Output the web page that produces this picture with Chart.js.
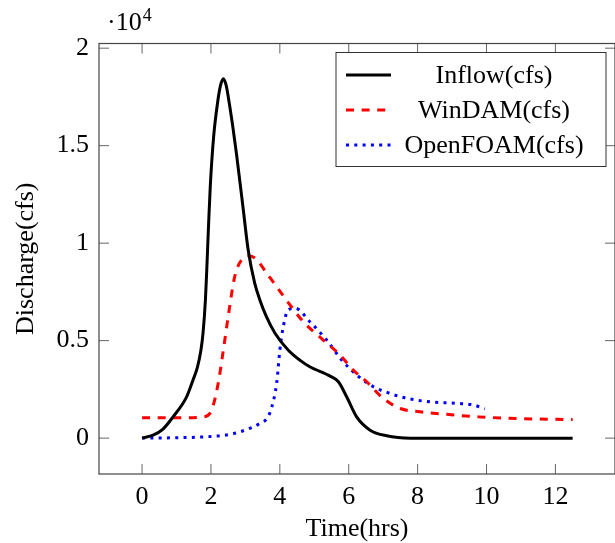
<!DOCTYPE html>
<html>
<head>
<meta charset="utf-8">
<script src="https://cdn.jsdelivr.net/npm/chart.js@4.4.1/dist/chart.umd.min.js"></script>
<style>
html, body { margin: 0; padding: 0; background: #fff; }
canvas { display: block; }
</style>
</head>
<body>
<canvas id="hydroChart" width="615" height="543"></canvas>
<script>
// values (discharge in cfs, time in hrs)
const inflowTime = [0, 0.32, 0.6, 0.9, 1.29, 1.48, 1.61, 1.71, 1.77, 1.84, 1.88, 1.93, 1.98, 2.08, 2.2, 2.28, 2.36, 2.44, 2.53, 2.64, 2.74, 2.94, 3.08, 3.27, 3.42, 3.61, 3.86, 4.24, 4.58, 4.87, 5.46, 5.7, 5.94, 6.23, 6.62, 7.1, 7.8, 9, 10, 11, 12.5];
const inflowQ = [0, 150, 450, 1090, 2100, 2980, 3660, 4520, 5380, 7100, 8700, 10900, 12900, 15500, 17300, 18100, 18430, 18100, 17200, 15900, 14600, 11700, 9660, 7950, 7090, 6230, 5380, 4520, 4000, 3660, 3180, 2890, 2120, 1090, 410, 120, 0, 0, 0, 0, 0];

const windamTime = [0, 1, 1.8, 2.02, 2.21, 2.36, 2.5, 2.69, 2.94, 3.1, 3.3, 3.62, 4.1, 4.68, 5.26, 5.75, 6.13, 6.52, 7.0, 7.5, 8.07, 8.85, 9.77, 11, 12.5];
const windamQ = [1040, 1040, 1090, 1440, 2810, 4520, 6230, 8280, 9250, 9350, 9200, 8460, 7300, 5970, 5030, 4260, 3490, 2890, 2040, 1520, 1350, 1220, 1090, 1000, 950];

const openfoamTime = [0, 1, 1.87, 2.4, 2.84, 3.42, 3.62, 3.76, 3.91, 4.0, 4.1, 4.24, 4.45, 4.87, 5.36, 5.8, 6.23, 6.72, 7.2, 7.69, 8.36, 9.14, 9.62, 9.95];
const openfoamQ = [0, 20, 70, 150, 320, 750, 1000, 1550, 2850, 4520, 5720, 6570, 6660, 5970, 5030, 4000, 3240, 2630, 2290, 2040, 1860, 1780, 1700, 1500];

const seriesNames = ["Inflow(cfs)", "WinDAM(cfs)", "OpenFOAM(cfs)"];
const xTicks = [0, 2, 4, 6, 8, 10, 12];
const yTicks = [0, 5000, 10000, 15000, 20000];
const yTickLabels = ["0", "0.5", "1", "1.5", "2"];

const FONT = "'Liberation Serif', 'Times New Roman', serif";

function pairs(t, q) {
  return t.map((v, i) => ({ x: v, y: q[i] }));
}

// box, inward ticks on all four sides, the 10^4 factor and the legend
const framePlugin = {
  id: 'frame',
  afterDraw(chart) {
    const ctx = chart.ctx;
    const a = chart.chartArea;
    const xs = chart.scales.x, ys = chart.scales.y;
    const tl = 10;
    ctx.save();
    ctx.strokeStyle = '#666';
    ctx.lineWidth = 1;
    ctx.beginPath();
    xTicks.forEach(v => {
      const px = xs.getPixelForValue(v);
      ctx.moveTo(px, a.bottom); ctx.lineTo(px, a.bottom - tl);
      ctx.moveTo(px, a.top); ctx.lineTo(px, a.top + tl);
    });
    yTicks.forEach(v => {
      const py = ys.getPixelForValue(v);
      ctx.moveTo(a.left, py); ctx.lineTo(a.left + tl, py);
      ctx.moveTo(a.right, py); ctx.lineTo(a.right - tl, py);
    });
    ctx.stroke();
    ctx.strokeStyle = '#444';
    ctx.lineWidth = 1.2;
    ctx.strokeRect(a.left, a.top, a.right - a.left, a.bottom - a.top);

    // multiplier
    ctx.fillStyle = '#000';
    ctx.textBaseline = 'alphabetic';
    ctx.textAlign = 'left';
    ctx.font = '26px ' + FONT;
    ctx.fillText('\u00b710', 107, 30);
    const w = ctx.measureText('\u00b710').width;
    ctx.font = '18px ' + FONT;
    ctx.fillText('4', 107 + w + 1, 21);

    // legend
    const lw = 270, lh = 114;
    const lx = a.right - 9 - lw, ly = a.top + 9;
    ctx.fillStyle = '#fff';
    ctx.fillRect(lx, ly, lw, lh);
    ctx.strokeStyle = '#333';
    ctx.lineWidth = 1;
    ctx.strokeRect(lx, ly, lw, lh);
    chart.data.datasets.forEach((ds, i) => {
      const cy = ly + 22.5 + i * 35;
      ctx.save();
      ctx.strokeStyle = ds.borderColor;
      ctx.lineWidth = ds.borderWidth;
      ctx.setLineDash(ds.borderDash || []);
      ctx.beginPath();
      ctx.moveTo(lx + 10, cy);
      ctx.lineTo(lx + 55, cy);
      ctx.stroke();
      ctx.restore();
      ctx.fillStyle = '#000';
      ctx.font = '26px ' + FONT;
      ctx.textAlign = 'center';
      ctx.textBaseline = 'middle';
      ctx.fillText(ds.label, lx + 158, cy + 1);
    });
    ctx.restore();
  }
};

const CHART = document.getElementById("hydroChart");
const hydroChart = new Chart(CHART, {
  type: 'line',
  data: {
    datasets: [
      {
        label: seriesNames[0],
        data: pairs(inflowTime, inflowQ),
        borderColor: '#000000',
        borderWidth: 3,
        pointRadius: 0,
        cubicInterpolationMode: 'monotone',
        fill: false
      },
      {
        label: seriesNames[1],
        data: pairs(windamTime, windamQ),
        borderColor: '#ff0000',
        borderWidth: 3,
        borderDash: [8, 7.6],
        pointRadius: 0,
        cubicInterpolationMode: 'monotone',
        fill: false
      },
      {
        label: seriesNames[2],
        data: pairs(openfoamTime, openfoamQ),
        borderColor: '#0000ff',
        borderWidth: 3,
        borderDash: [3, 5.3],
        pointRadius: 0,
        cubicInterpolationMode: 'monotone',
        fill: false
      }
    ]
  },
  options: {
    responsive: false,
    animation: false,
    devicePixelRatio: 1,
    layout: { padding: { top: 43.5, right: 0, left: 0, bottom: 0 } },
    plugins: {
      legend: { display: false },
      tooltip: { enabled: false }
    },
    scales: {
      x: {
        type: 'linear',
        min: -1.25,
        max: 13.73,
        grid: { display: false, drawTicks: false },
        border: { display: false },
        afterBuildTicks: s => { s.ticks = xTicks.map(v => ({ value: v })); },
        afterFit: s => { s.height = 69; },
        ticks: {
          color: '#000',
          padding: 8,
          maxRotation: 0,
          font: { family: FONT, size: 26 }
        },
        title: {
          display: true,
          text: 'Time(hrs)',
          color: '#000',
          font: { family: FONT, size: 26, lineHeight: 1 },
          padding: { top: 0, bottom: 1 }
        }
      },
      y: {
        type: 'linear',
        min: -1840,
        max: 20240,
        grid: { display: false, drawTicks: false },
        border: { display: false },
        afterBuildTicks: s => { s.ticks = yTicks.map(v => ({ value: v })); },
        afterFit: s => { s.width = 99; },
        ticks: {
          color: '#000',
          padding: 10,
          font: { family: FONT, size: 26 },
          callback: (v) => {
            const i = yTicks.indexOf(v);
            return i >= 0 ? yTickLabels[i] : '';
          }
        },
        title: {
          display: true,
          text: 'Discharge(cfs)',
          color: '#000',
          font: { family: FONT, size: 26, lineHeight: 1 },
          padding: { top: 13, bottom: 0 }
        }
      }
    }
  },
  plugins: [framePlugin]
});
</script>
</body>
</html>
